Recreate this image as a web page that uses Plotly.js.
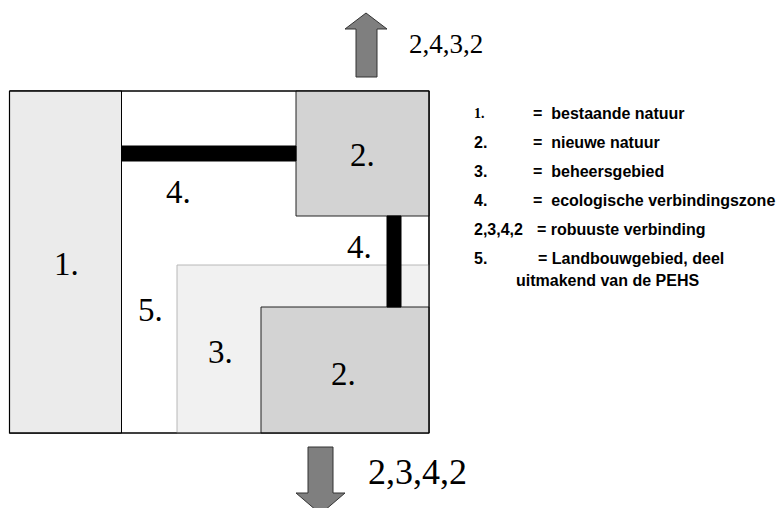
<!DOCTYPE html>
<html>
<head>
<meta charset="utf-8">
<script src="https://cdn.plot.ly/plotly-3.0.1.min.js"></script>
<style>html,body{margin:0;padding:0;background:#fff;}#chart{width:781px;height:508px;}</style>
</head>
<body>
<div id="chart"></div>
<script>
// ---- Diagram data (map regions, in drawing units) ----
var regionNames = ["kader", "1", "3", "2a", "2b", "4a", "4b"];
var regionX0 = [9.5, 9.5, 177, 296, 261, 121.5, 387];
var regionX1 = [429, 121.5, 429, 429, 429, 296, 401];
var regionY0 = [91, 91, 265, 91, 307, 146, 216];
var regionY1 = [433, 433, 433, 216, 433, 161, 307];

var labelTexts = ["1.", "2.", "4.", "4.", "5.", "3.", "2."];
var labelX = [66, 362, 178, 359, 150, 220, 343];
var labelY = [264, 155, 192, 247, 310, 352, 374];

// arrows (outline vertices)
var upArrowX = [356, 356, 345, 366, 387, 377, 377, 356];
var upArrowY = [77, 29, 29, 13, 29, 29, 77, 77];
var downArrowX = [308, 333, 333, 345, 320.5, 296, 308, 308];
var downArrowY = [447, 447, 493, 493, 514, 493, 493, 447];
var upArrowText = "2,4,3,2";
var downArrowText = "2,3,4,2";

// legend
var legendKeys = ["1.", "2.", "3.", "4.", "2,3,4,2", "5."];
var legendTexts = ["=\u00a0 bestaande natuur", "=\u00a0 nieuwe natuur", "=\u00a0 beheersgebied",
                   "=\u00a0 ecologische verbindingszone", "= robuuste verbinding", "= Landbouwgebied, deel"];
var legendExtra = "uitmakend van de PEHS";

// ---- styles ----
var regionFill = {"kader": "#ffffff", "1": "#ebebeb", "3": "#f1f1f1", "2a": "#d3d3d3", "2b": "#d3d3d3", "4a": "#000000", "4b": "#000000"};
var regionLine = {"kader": "#000000", "1": "#000000", "3": "#b8b8b8", "2a": "#222222", "2b": "#222222", "4a": "#000000", "4b": "#000000"};

var traces = [];
for (var i = 0; i < regionNames.length; i++) {
  var n = regionNames[i];
  traces.push({
    type: "scatter", mode: "lines", fill: "toself",
    x: [regionX0[i], regionX1[i], regionX1[i], regionX0[i], regionX0[i]],
    y: [regionY0[i], regionY0[i], regionY1[i], regionY1[i], regionY0[i]],
    fillcolor: regionFill[n],
    line: {color: regionLine[n], width: 1},
    hoverinfo: "skip", showlegend: false
  });
}
// outer frame on top
traces.push({
  type: "scatter", mode: "lines",
  x: [regionX0[0], regionX1[0], regionX1[0], regionX0[0], regionX0[0]],
  y: [regionY0[0], regionY0[0], regionY1[0], regionY1[0], regionY0[0]],
  line: {color: "#000", width: 1.2}, hoverinfo: "skip", showlegend: false
});
traces.push({type: "scatter", mode: "lines", fill: "toself", x: upArrowX, y: upArrowY,
  fillcolor: "#7f7f7f", line: {color: "#333", width: 1}, hoverinfo: "skip", showlegend: false});
traces.push({type: "scatter", mode: "lines", fill: "toself", x: downArrowX, y: downArrowY,
  fillcolor: "#7f7f7f", line: {color: "#333", width: 1}, hoverinfo: "skip", showlegend: false});

var serif = "Liberation Serif, Times New Roman, serif";
var sans = "Liberation Sans, Arial, sans-serif";
var ann = [];
for (var j = 0; j < labelTexts.length; j++) {
  ann.push({x: labelX[j], y: labelY[j], xref: "x", yref: "y", text: labelTexts[j], showarrow: false,
    xanchor: "center", yanchor: "middle", font: {family: serif, size: 33, color: "#000"}});
}
ann.push({x: 407, y: 44, xref: "x", yref: "y", text: upArrowText, showarrow: false,
  xanchor: "left", yanchor: "middle", font: {family: serif, size: 27, color: "#000"}});
ann.push({x: 366, y: 472, xref: "x", yref: "y", text: downArrowText, showarrow: false,
  xanchor: "left", yanchor: "middle", font: {family: serif, size: 36, color: "#000"}});

var rowY = [113, 142, 171, 200, 229, 258];
var descX = [531, 531, 531, 531, 535, 536];
for (var k = 0; k < legendKeys.length; k++) {
  var isFirst = (k === 0);
  ann.push({x: 472, y: rowY[k], xref: "x", yref: "y", text: "<b>" + legendKeys[k] + "</b>",
    showarrow: false, xanchor: "left", yanchor: "middle",
    font: {family: isFirst ? serif : sans, size: isFirst ? 14 : 16, color: "#000"}});
  ann.push({x: descX[k], y: rowY[k], xref: "x", yref: "y", text: "<b>" + legendTexts[k] + "</b>",
    showarrow: false, xanchor: "left", yanchor: "middle", font: {family: sans, size: 16, color: "#000"}});
}
ann.push({x: 514, y: 280, xref: "x", yref: "y", text: "<b>" + legendExtra + "</b>",
  showarrow: false, xanchor: "left", yanchor: "middle", font: {family: sans, size: 16, color: "#000"}});

var layout = {
  width: 781, height: 508,
  margin: {l: 0, r: 0, t: 0, b: 0, pad: 0},
  paper_bgcolor: "#fff", plot_bgcolor: "#fff",
  xaxis: {range: [0, 781], visible: false, fixedrange: true},
  yaxis: {range: [508, 0], visible: false, fixedrange: true},
  annotations: ann, showlegend: false
};
Plotly.newPlot("chart", traces, layout, {staticPlot: true, displayModeBar: false});
</script>
</body>
</html>
